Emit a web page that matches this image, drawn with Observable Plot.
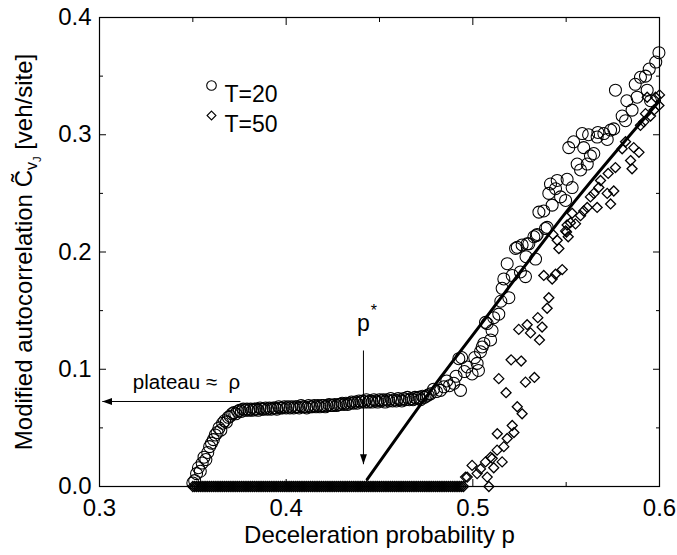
<!DOCTYPE html>
<html><head><meta charset="utf-8">
<script src="https://cdn.jsdelivr.net/npm/d3@7"></script>
<script src="https://cdn.jsdelivr.net/npm/@observablehq/plot@0.6"></script>
<style>html,body{margin:0;padding:0;background:#fff;} svg{display:block;}</style>
</head><body><div id="chart"></div>
<script>
// ---- tick values ----
const xTicks = [0.3, 0.4, 0.5, 0.6];
const xMinorTicks = [0.35, 0.45, 0.55];
const yTicks = [0.0, 0.1, 0.2, 0.3, 0.4];
const yMinorTicks = [0.05, 0.15, 0.25, 0.35];

// ---- T=20 (circles) ----
const t20P = [
0.350,0.351,0.352,0.353,0.354,0.355,0.356,0.357,0.358,0.359,
0.360,0.361,0.362,0.363,0.364,0.365,0.366,0.367,0.368,0.369,
0.370,0.371,0.372,0.373,0.374,0.375,0.376,0.377,0.378,0.379,
0.380,0.381,0.382,0.383,0.384,0.385,0.386,0.387,0.388,0.389,
0.390,0.391,0.392,0.393,0.394,0.395,0.396,0.397,0.398,0.399,
0.400,0.401,0.402,0.403,0.404,0.405,0.406,0.407,0.408,0.409,
0.410,0.411,0.412,0.413,0.414,0.415,0.416,0.417,0.418,0.419,
0.420,0.421,0.422,0.423,0.424,0.425,0.426,0.427,0.428,0.429,
0.430,0.431,0.432,0.433,0.434,0.435,0.436,0.437,0.438,0.439,
0.440,0.441,0.442,0.443,0.444,0.445,0.446,0.447,0.448,0.449,
0.450,0.451,0.452,0.453,0.454,0.455,0.456,0.457,0.458,0.459,
0.460,0.461,0.462,0.463,0.464,0.465,0.466,0.467,0.468,0.469,
0.470,0.471,0.472,0.473,0.474,0.475,0.476,
0.4773,0.4790,0.4805,0.4827,0.4845,0.4860,0.4875,0.4898,0.4910,0.4925,
0.4934,0.4940,0.4955,0.4970,0.4996,0.5010,0.5023,0.5030,0.5041,0.5050,
0.5059,0.5068,0.5077,0.5095,0.5103,0.5112,0.5139,0.5150,0.5157,0.5166,
0.5184,0.5193,0.5211,0.5229,0.5238,0.5255,0.5264,0.5282,0.5285,0.5291,
0.5300,0.5327,0.5336,0.5340,0.5345,0.5354,0.5380,0.5389,0.5398,0.5407,
0.5416,0.5425,0.5443,0.5452,0.5470,0.5497,0.5505,0.5514,0.5532,0.5540,
0.5559,0.5577,0.5586,0.5594,0.5613,0.5620,0.5630,0.5648,0.5666,0.5670,
0.5702,0.5720,0.5738,0.5755,0.5764,0.5800,0.5818,0.5825,0.5853,0.5870,
0.5880,0.5898,0.5925,0.5934,0.5945,0.5952,0.5980,0.5997
];
const t20V = [
0.003,0.005,0.011,0.016,0.013,0.020,0.025,0.023,0.029,0.034,
0.037,0.040,0.044,0.046,0.050,0.048,0.054,0.056,0.055,0.059,
0.060,0.062,0.063,0.062,0.064,0.065,0.064,0.066,0.065,0.066,
0.065,0.066,0.065,0.066,0.066,0.065,0.067,0.066,0.066,0.067,
0.066,0.067,0.066,0.067,0.067,0.066,0.068,0.067,0.067,0.068,
0.067,0.068,0.067,0.068,0.067,0.068,0.068,0.067,0.069,0.068,
0.068,0.067,0.069,0.068,0.068,0.069,0.068,0.069,0.068,0.069,
0.069,0.068,0.069,0.070,0.069,0.069,0.070,0.069,0.070,0.070,
0.071,0.070,0.071,0.070,0.071,0.072,0.071,0.072,0.071,0.073,
0.072,0.073,0.072,0.074,0.072,0.073,0.072,0.074,0.073,0.072,
0.074,0.073,0.074,0.072,0.074,0.073,0.075,0.073,0.074,0.073,
0.075,0.074,0.073,0.075,0.074,0.076,0.074,0.075,0.074,0.076,
0.075,0.076,0.074,0.077,0.076,0.077,0.078,
0.079,0.083,0.081,0.082,0.085,0.090,0.086,0.088,0.094,0.109,
0.082,0.110,0.098,0.102,0.096,0.110,0.105,0.099,0.115,0.119,
0.122,0.140,0.139,0.125,0.133,0.144,0.147,0.158,0.169,0.177,
0.190,0.161,0.180,0.203,0.204,0.183,0.206,0.179,0.196,0.207,
0.207,0.213,0.194,0.214,0.215,0.234,0.235,0.220,0.221,0.250,
0.258,0.240,0.254,0.261,0.247,0.244,0.262,0.289,0.255,0.294,
0.275,0.270,0.301,0.289,0.275,0.300,0.282,0.284,0.298,0.302,
0.301,0.296,0.304,0.305,0.338,0.316,0.312,0.329,0.321,0.343,
0.332,0.349,0.350,0.338,0.356,0.329,0.362,0.370
];

// ---- T=50 (diamonds) ----
const t50P = [
0.350,0.351,0.352,0.353,0.354,0.355,0.356,0.357,0.358,0.359,
0.360,0.361,0.362,0.363,0.364,0.365,0.366,0.367,0.368,0.369,
0.370,0.371,0.372,0.373,0.374,0.375,0.376,0.377,0.378,0.379,
0.380,0.381,0.382,0.383,0.384,0.385,0.386,0.387,0.388,0.389,
0.390,0.391,0.392,0.393,0.394,0.395,0.396,0.397,0.398,0.399,
0.400,0.401,0.402,0.403,0.404,0.405,0.406,0.407,0.408,0.409,
0.410,0.411,0.412,0.413,0.414,0.415,0.416,0.417,0.418,0.419,
0.420,0.421,0.422,0.423,0.424,0.425,0.426,0.427,0.428,0.429,
0.430,0.431,0.432,0.433,0.434,0.435,0.436,0.437,0.438,0.439,
0.440,0.441,0.442,0.443,0.444,0.445,0.446,0.447,0.448,0.449,
0.450,0.451,0.452,0.453,0.454,0.455,0.456,0.457,0.458,0.459,
0.460,0.461,0.462,0.463,0.464,0.465,0.466,0.467,0.468,0.469,
0.470,0.471,0.472,0.473,0.474,0.475,0.476,0.477,0.478,0.479,
0.480,0.481,0.482,0.483,0.484,0.485,0.486,0.487,0.488,0.489,
0.490,0.491,0.492,0.493,0.494,0.495,
0.4961,0.4970,0.4996,0.5023,0.5041,0.5068,0.5077,0.5086,0.5095,0.5104,
0.5112,0.5130,0.5131,0.5139,0.5157,0.5166,0.5178,0.5184,0.5205,0.5211,
0.5220,0.5238,0.5246,0.5259,0.5264,0.5282,0.5291,0.5309,0.5330,0.5348,
0.5357,0.5371,0.5380,0.5398,0.5407,0.5425,0.5429,0.5443,0.5452,0.5461,
0.5479,0.5497,0.5502,0.5505,0.5511,0.5523,0.5532,0.5550,0.5577,0.5594,
0.5613,0.5630,0.5648,0.5666,0.5675,0.5684,0.5720,0.5725,0.5738,0.5755,
0.5764,0.5800,0.5818,0.5845,0.5853,0.5862,0.5890,0.5898,0.5916,0.5925,
0.5934,0.5952,0.5970,0.5979,0.5997,0.6000
];
const t50V = [
0,0,0,0,0,0,0,0,0,0, 0,0,0,0,0,0,0,0,0,0, 0,0,0,0,0,0,0,0,0,0,
0,0,0,0,0,0,0,0,0,0, 0,0,0,0,0,0,0,0,0,0, 0,0,0,0,0,0,0,0,0,0,
0,0,0,0,0,0,0,0,0,0, 0,0,0,0,0,0,0,0,0,0, 0,0,0,0,0,0,0,0,0,0,
0,0,0,0,0,0,0,0,0,0, 0,0,0,0,0,0,0,0,0,0, 0,0,0,0,0,0,0,0,0,0,
0,0,0,0,0,0,0,0,0,0, 0,0,0,0,0,0,0,0,0,0, 0,0,0,0,0,0,
0.008,0.008,0.018,0.011,0.015,0.021,0.008,0.000,0.025,0.024,
0.016,0.031,0.045,0.092,0.021,0.034,0.080,0.041,0.108,0.052,
0.046,0.068,0.134,0.107,0.062,0.089,0.138,0.131,0.093,0.144,
0.125,0.136,0.180,0.152,0.161,0.177,0.215,0.181,0.210,0.203,
0.185,0.218,0.217,0.223,0.213,0.225,0.233,0.224,0.231,0.235,
0.238,0.247,0.250,0.238,0.255,0.261,0.250,0.267,0.241,0.252,
0.272,0.288,0.294,0.278,0.271,0.289,0.285,0.308,0.311,0.318,
0.332,0.316,0.321,0.332,0.325,0.334
];

// ---- fitted line ----
const fitP = [0.4434, 0.4827, 0.5032, 0.555, 0.600];
const fitV = [0.006, 0.093, 0.136, 0.244, 0.329];

// ---- annotations (data coordinates) ----
const pStar = 0.4414;
const pStarArrow = [0.116, 0.019];       // arrow from / to (C value)
const pStarLabelV = 0.1386;
const plateauLevel = 0.0725;
const plateauArrowP = [0.3755, 0.3015];  // arrow from / to (p value)
const plateauLabelP = 0.3466;
const plateauLabelV = 0.0887;
const legendLabels = ["T=20", "T=50"];

const FONT = "'Liberation Sans', Arial, Helvetica, sans-serif";
const t20 = t20P.map((p, i) => ({p, v: t20V[i]}));
const t50 = t50P.map((p, i) => ({p, v: t50V[i]}));
const fit = fitP.map((p, i) => ({p, v: fitV[i]}));

const inTicksX = (ticks, anchor, size) => Plot.axisX(ticks, {anchor, tickSize: -size, tickFormat: () => "", label: null, stroke: "black"});
const inTicksY = (ticks, anchor, size) => Plot.axisY(ticks, {anchor, tickSize: -size, tickFormat: () => "", label: null, stroke: "black"});

const chart = Plot.plot({
  width: 677, height: 555,
  marginLeft: 99, marginRight: 18, marginTop: 17, marginBottom: 69,
  style: {fontFamily: FONT, fontSize: "24px", color: "black", background: "white"},
  x: {domain: [0.3, 0.6]},
  y: {domain: [0, 0.4]},
  marks: [
    inTicksX(xTicks, "bottom", 7), inTicksX(xMinorTicks, "bottom", 4),
    inTicksX(xTicks, "top", 7), inTicksX(xMinorTicks, "top", 4),
    inTicksY(yTicks, "left", 7), inTicksY(yMinorTicks, "left", 4),
    inTicksY(yTicks, "right", 7), inTicksY(yMinorTicks, "right", 4),
    Plot.axisX(xTicks, {anchor: "bottom", tickSize: 0, tickPadding: 12, tickFormat: d3.format(".1f"), label: null, fontSize: 24}),
    Plot.axisY(yTicks, {anchor: "left", tickSize: 0, tickPadding: 8, tickFormat: d3.format(".1f"), label: null, fontSize: 24}),
    Plot.frame({stroke: "black", strokeWidth: 1.2}),
    Plot.dot(t50, {x: "p", y: "v", symbol: "diamond2", r: 4.5, stroke: "black", strokeWidth: 1.3, fill: "none"}),
    Plot.dot(t20, {x: "p", y: "v", symbol: "circle", r: 6, stroke: "black", strokeWidth: 1.05, fill: "none"}),
    Plot.line(fit, {x: "p", y: "v", curve: "monotone-x", stroke: "black", strokeWidth: 3}),
    Plot.link([pStar], {x1: d => d, x2: d => d, y1: pStarArrow[0], y2: pStarArrow[1], stroke: "black", strokeWidth: 1}),
    Plot.text(["p"], {x: pStar, y: pStarLabelV, fontSize: 23}),
    Plot.text(["*"], {x: pStar, y: pStarLabelV, dx: 10.5, dy: -13, fontSize: 16}),
    Plot.link([plateauLevel], {x1: plateauArrowP[0], x2: plateauArrowP[1], y1: d => d, y2: d => d, stroke: "black", strokeWidth: 1}),
    Plot.text(["plateau \u2248 \u00a0\u03c1"], {x: plateauLabelP, y: plateauLabelV, fontSize: 20.5}),
    Plot.dot([legendLabels[0]], {frameAnchor: "top-left", dx: 112, dy: 68, symbol: "circle", r: 4.8, stroke: "black", strokeWidth: 1.1, fill: "none"}),
    Plot.dot([legendLabels[1]], {frameAnchor: "top-left", dx: 112, dy: 98, symbol: "diamond2", r: 4, stroke: "black", strokeWidth: 1.1, fill: "none"}),
    Plot.text([legendLabels[0]], {frameAnchor: "top-left", dx: 125, dy: 68, text: d => d, textAnchor: "start", fontSize: 23}),
    Plot.text([legendLabels[1]], {frameAnchor: "top-left", dx: 125, dy: 98, text: d => d, textAnchor: "start", fontSize: 23}),
    Plot.text(["Deceleration probability p"], {frameAnchor: "bottom", dy: 56, text: d => d, fontSize: 24})
  ]
});
document.getElementById("chart").appendChild(chart);

// arrowheads and y-axis title with subscripts
const svg = d3.select(chart);
const defs = svg.insert("defs", ":first-child");
defs.append("marker").attr("id", "ahead").attr("viewBox", "0 0 10 7").attr("refX", 10).attr("refY", 3.5)
  .attr("markerUnits", "userSpaceOnUse").attr("markerWidth", 10).attr("markerHeight", 7).attr("orient", "auto")
  .append("path").attr("d", "M0,0L10,3.5L0,7Z").attr("fill", "black");
svg.selectAll('g[aria-label="link"] path').attr("marker-end", "url(#ahead)");

const yt = svg.append("text").attr("transform", "translate(32,252) rotate(-90)")
  .attr("text-anchor", "middle").attr("font-family", FONT).attr("font-size", 24).attr("fill", "black");
yt.append("tspan").text("Modified autocorrelation C\u0303");
yt.append("tspan").attr("font-size", 16).attr("dy", 5).text("v");
yt.append("tspan").attr("font-size", 11).attr("dy", 4).text("J");
yt.append("tspan").attr("dy", -9).text(" [veh/site]");
</script>
</body></html>
